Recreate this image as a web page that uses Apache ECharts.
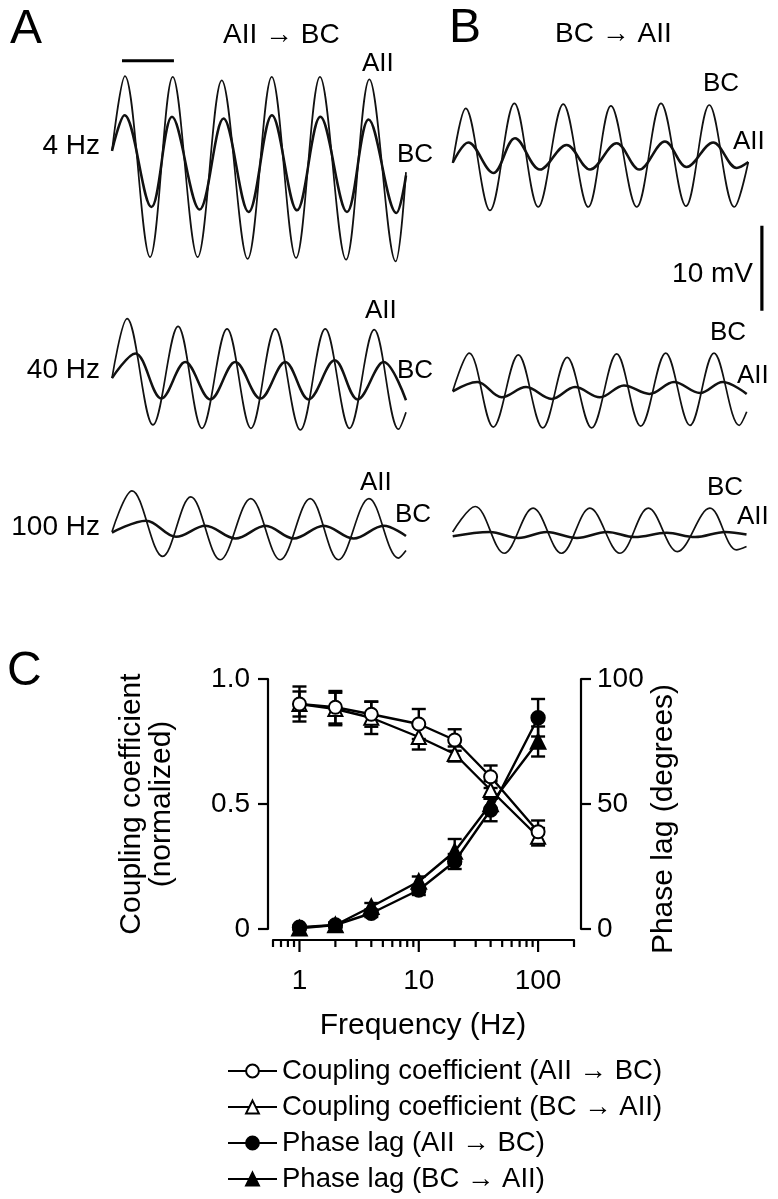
<!DOCTYPE html>
<html>
<head>
<meta charset="utf-8">
<script src="https://cdn.jsdelivr.net/npm/echarts@6/dist/echarts.min.js"></script>
<style>html,body{margin:0;padding:0;background:#fff}#c{width:778px;height:1199px}</style>
</head>
<body>
<div id="c"></div>
<script>
// ---------- Panel A/B traces: [time (ms), membrane potential (mV)] at peaks/troughs ----------
const a4_AII  = [[0,1.9],[66,10.7],[194,-10.6],[310,10.6],[437,-10.6],[560,10.2],[692,-10.8],[815,10.6],[939,-10.7],[1061,10.6],[1194,-10.9],[1313,10.3],[1447,-11.1],[1500,-0.6]];
const a4_BC   = [[0,1.9],[64,6.1],[201,-4.7],[306,5.9],[447,-5.0],[569,5.7],[697,-5.3],[816,6.1],[944,-5.1],[1063,5.9],[1199,-5.3],[1309,5.6],[1451,-5.4],[1500,-1.0]];
const a40_AII = [[0,0.1],[7.7,7.1],[20.9,-5.4],[33.7,6.2],[45.9,-5.8],[58.7,5.9],[70.9,-5.8],[83.3,5.9],[96.1,-6.0],[108.8,5.9],[121.2,-5.8],[133.8,5.8],[146.2,-5.9],[150,-3.9]];
const a40_BC  = [[0,0.1],[11.9,3.0],[25.2,-2.3],[37.4,2.0],[50.2,-2.4],[62.9,2.0],[75.7,-2.3],[88.4,2.0],[100.3,-2.4],[113.6,2.2],[125.3,-2.4],[138.6,2.0],[150,-2.5]];
const a100_AII= [[0,-0.2],[3.4,4.6],[8.6,-3.1],[13.4,3.9],[18.4,-3.5],[23.6,3.7],[28.6,-3.5],[33.7,3.7],[38.5,-3.5],[43.7,3.7],[48.7,-3.3],[50,-2.4]];
const a100_BC = [[0,-0.3],[5.8,1.1],[10.9,-0.8],[15.9,0.5],[21.0,-1.0],[26.1,0.5],[30.9,-1.0],[36.0,0.5],[41.1,-1.0],[46.2,0.5],[50,-0.7]];
const b4_BC   = [[0,-0.8],[66,5.6],[189,-6.4],[313,6.2],[434,-6.0],[561,6.1],[688,-6.0],[803,5.9],[934,-6.0],[1057,6.2],[1184,-5.9],[1302,6.0],[1429,-6.0],[1500,-0.7]];
const b4_AII  = [[0,-0.8],[79,1.6],[206,-2.0],[316,2.1],[443,-1.6],[578,1.3],[697,-1.6],[832,1.5],[947,-1.6],[1077,1.7],[1187,-1.3],[1322,1.6],[1441,-1.4],[1500,-0.7]];
const b40_BC  = [[0,-0.1],[8.4,4.4],[20.6,-4.3],[33.3,4.2],[45.7,-4.4],[58.1,3.9],[70.5,-4.4],[83.2,4.3],[95.4,-4.2],[108.1,4.4],[120.4,-4.1],[132.6,4.4],[145.4,-4.1],[149.2,-2.5]];
const b40_AII = [[0,-0.1],[12.5,1.0],[24.9,-0.8],[37.2,0.4],[50.2,-1.0],[62.1,0.4],[74.7,-0.8],[86.9,0.6],[99.8,-0.4],[112.3,1.0],[125.5,-0.3],[137,1.0],[149.2,-0.4]];
const b100_BC = [[0,0.0],[3.8,3.0],[8.7,-2.5],[13.6,2.8],[18.4,-2.5],[23.2,2.8],[28.3,-2.5],[33.1,2.8],[38.0,-2.3],[43.5,2.8],[48.0,-2.1],[49.7,-1.7]];
const b100_AII= [[0,-0.5],[6.3,0.0],[11.1,-0.7],[15.9,0.0],[21.0,-0.7],[26.1,0.0],[30.8,-0.6],[36.2,-0.1],[41.0,-0.6],[46.1,0.0],[49.7,-0.3]];
const traceXMax = [1500, 150, 50, 1600, 150, 50];   // ms range of each row's time axis
const traceYMax = [15, 15, 15, 20, 15, 15];         // +/- mV range of each row
const timeBar4Hz = [[51,12.5],[316,12.5]];          // horizontal time bar (A, 4 Hz grid)
const voltBar10mV = [[1569,-8.2],[1569,-18.2]];      // 10 mV bar (B, 4 Hz grid)

// ---------- Panel C ----------
const freqs    = [1, 2, 4, 10, 20, 40, 100];
const ccAB     = [0.90, 0.887, 0.859, 0.82, 0.756, 0.609, 0.389];
const ccAB_err = [0.05, 0.065, 0.05, 0.06, 0.043, 0.045, 0.045];
const ccBA     = [0.90, 0.88, 0.845, 0.768, 0.70, 0.556, 0.369];
const ccBA_err = [0.07, 0.065, 0.065, 0.05, 0.03, 0.035, 0.035];
const plAB     = [0.7, 1.6, 6.3, 15.6, 27, 47.6, 84.5];
const plAB_err = [0.8, 1, 1.5, 2, 3, 4.5, 7.5];
const plBA     = [0.3, 1.6, 8.9, 19, 31, 50, 75];
const plBA_err = [0.8, 1, 1.5, 2, 5, 3, 6];
const xMajorTicks = [1, 10, 100];
const xTickLabels = ['1', '10', '100'];
const xMinorTicks = [0.6,0.7,0.8,0.9,2,3,4,5,6,7,8,9,20,30,40,50,60,70,80,90,200];
const leftTicks = [0, 0.5, 1.0], leftTickLabels = ['0', '0.5', '1.0'];
const rightTickLabels = ['0', '50', '100'];
const legendNames = ['Coupling coefficient (AII \u2192 BC)','Coupling coefficient (BC \u2192 AII)','Phase lag (AII \u2192 BC)','Phase lag (BC \u2192 AII)'];

const F = 'Liberation Sans, Arial, Helvetica, sans-serif';
const K = '#000';

// trace grids (px per mV is the same in every row: 8.5)
const tg = [
  {left:112, width:294, mid:167},
  {left:112, width:294, mid:379},
  {left:112, width:294, mid:530},
  {left:452.7, width:315.3, mid:156},
  {left:452.7, width:295.6, mid:390.5},
  {left:452.7, width:295.6, mid:532}
];
const grids = tg.map((g,i) => ({left:g.left, width:g.width, top:g.mid - traceYMax[i]*8.5, height:traceYMax[i]*17, outerBoundsMode:'none', containLabel:false}));
grids.push({left:273, width:301, top:679, height:250, outerBoundsMode:'none', containLabel:false});

const xAxes = traceXMax.map((d,i)=>({type:'value', gridIndex:i, min:0, max:d, show:false}));
const yAxes = traceYMax.map((d,i)=>({type:'value', gridIndex:i, min:-d, max:d, show:false}));
xAxes.push({
  type:'log', logBase:10, gridIndex:6, min:0.6, max:200,
  axisLine:{show:true, onZero:false, lineStyle:{color:K, width:2.2}},
  axisTick:{show:false}, splitLine:{show:false}, minorTick:{show:false},
  offset:11,
  axisLabel:{margin:27, fontSize:28, color:K, fontFamily:F, showMinLabel:false, showMaxLabel:false,
    formatter:v=>{const i=xMajorTicks.findIndex(m=>Math.abs(m-v)<1e-6*m); return i>=0?xTickLabels[i]:'';}}
});
yAxes.push({
  type:'value', gridIndex:6, position:'left', min:0, max:1, interval:0.5, offset:5,
  axisLine:{show:true, onZero:false, lineStyle:{color:K, width:2.2}},
  axisTick:{show:true, length:10, lineStyle:{color:K, width:2.2}},
  splitLine:{show:false},
  axisLabel:{margin:18, fontSize:28, color:K, fontFamily:F,
    formatter:v=>{const i=leftTicks.findIndex(t=>Math.abs(t-v)<1e-9); return i>=0?leftTickLabels[i]:'';}}
});
yAxes.push({
  type:'value', gridIndex:6, position:'right', min:0, max:100, interval:50, offset:7,
  axisLine:{show:true, onZero:false, lineStyle:{color:K, width:2.2}},
  axisTick:{show:true, length:10, lineStyle:{color:K, width:2.2}},
  splitLine:{show:false},
  axisLabel:{margin:16, fontSize:28, color:K, fontFamily:F,
    formatter:v=>rightTickLabels[Math.round(v/50)]}
});

const series = [];
function trace(data, idx, w){
  series.push({type:'line', xAxisIndex:idx, yAxisIndex:idx, data, smooth:0.36, showSymbol:false, symbol:'none',
    lineStyle:{color:'#111', width:w}, clip:false, silent:true, animation:false});
}
trace(a4_AII,0,1.7); trace(a4_BC,0,2.5);
trace(a40_AII,1,1.7); trace(a40_BC,1,2.5);
trace(a100_AII,2,1.7); trace(a100_BC,2,2.5);
trace(b4_BC,3,1.7); trace(b4_AII,3,2.5);
trace(b40_BC,4,1.7); trace(b40_AII,4,2.5);
trace(b100_BC,5,1.7); trace(b100_AII,5,2.5);
// scale bars
series.push({type:'line', xAxisIndex:0, yAxisIndex:0, data:timeBar4Hz, symbol:'none', showSymbol:false, lineStyle:{color:K,width:3.2}, clip:false, animation:false});
series.push({type:'line', xAxisIndex:3, yAxisIndex:3, data:voltBar10mV, symbol:'none', showSymbol:false, lineStyle:{color:K,width:3.2}, clip:false, animation:false});

// panel C: error bars
function errRender(params, api){
  const x=api.value(0), y=api.value(1), e=api.value(2);
  const t=api.coord([x,y+e]), b=api.coord([x,y-e]); const w=7;
  const st={stroke:K, lineWidth:2.4};
  return {type:'group', children:[
    {type:'line', shape:{x1:t[0],y1:t[1],x2:b[0],y2:b[1]}, style:st},
    {type:'line', shape:{x1:t[0]-w,y1:t[1],x2:t[0]+w,y2:t[1]}, style:st},
    {type:'line', shape:{x1:b[0]-w,y1:b[1],x2:b[0]+w,y2:b[1]}, style:st}
  ]};
}
function errSeries(vals, errs, yIdx){
  series.push({type:'custom', xAxisIndex:6, yAxisIndex:yIdx, renderItem:errRender, z:1, clip:false, silent:true, animation:false,
    encode:{x:0,y:1}, data:freqs.map((f,i)=>[f, vals[i], errs[i]])});
}
errSeries(plAB, plAB_err, 7); errSeries(plBA, plBA_err, 7);
errSeries(ccAB, ccAB_err, 6); errSeries(ccBA, ccBA_err, 6);

function cLine(name, vals, yIdx, symbol, size, z){
  series.push({type:'line', name, xAxisIndex:6, yAxisIndex:yIdx, data:freqs.map((f,i)=>[f, vals[i]]),
    symbol, symbolSize:size, showSymbol:true, showAllSymbol:true, z,
    lineStyle:{color:K, width:2.4}, itemStyle:{color:K, borderColor:K, borderWidth:2.4}, silent:true, animation:false});
}
cLine(legendNames[2], plAB, 7, 'circle', 13, 3);
cLine(legendNames[3], plBA, 7, 'triangle', 14, 3);
cLine(legendNames[1], ccBA, 6, 'emptyTriangle', 14, 4);
cLine(legendNames[0], ccAB, 6, 'emptyCircle', 13, 5);

// x-axis ticks (log positions) drawn through the log scale
function tickRender(params, api){
  const p=api.coord([api.value(0),0]); const y0=p[1]+11; const len=api.value(1);
  return {type:'line', shape:{x1:p[0],y1:y0,x2:p[0],y2:y0+len}, style:{stroke:K, lineWidth:2.2}};
}
series.push({type:'custom', xAxisIndex:6, yAxisIndex:6, renderItem:tickRender, clip:false, silent:true, animation:false,
  encode:{x:0}, data:xMajorTicks.map(v=>[v,12]).concat(xMinorTicks.map(v=>[v,7]))});

// legends, one per row
const legendRowsY = [1073, 1109, 1145, 1181];
const legends = legendNames.map((n,i)=>({
  left:227, top:legendRowsY[i]-16, orient:'vertical', itemWidth:49, itemHeight:16, itemGap:0,
  selectedMode:false, data:[n], padding:0,
  textStyle:{fontSize:27.5, color:K, fontFamily:F}
}));

function txt(text, x, y, size, align, rot, lh){
  const o={type:'text', x, y, silent:true, style:{text, fontSize:size, fontFamily:F, fill:K, align:align||'left', verticalAlign:'middle', lineHeight:lh||size}};
  if(rot) o.rotation=rot;
  return o;
}
const R = Math.PI/2;
const graphic = [
  txt('A',10,30,48), txt('B',449,29,48), txt('C',7,672,48),
  txt('AII \u2192 BC',223,35,28), txt('BC \u2192 AII',555,34,28),
  txt('AII',362,64,26), txt('BC',397,155,26), txt('4 Hz',100,146,28,'right'),
  txt('AII',365,311,26), txt('BC',397,371,26), txt('40 Hz',100,370,28,'right'),
  txt('AII',360,483,26), txt('BC',395,515,26), txt('100 Hz',100,527,28,'right'),
  txt('BC',703,84,26), txt('AII',733,142,26),
  txt('BC',710,333,26), txt('AII',737,376,26),
  txt('BC',707,488,26), txt('AII',737,517,26),
  txt('10 mV',753,274,28,'right'),
  txt('Frequency (Hz)',423,1026,30,'center'),
  txt('Coupling coefficient\n(normalized)',147,804,30,'center',R,30),
  txt('Phase lag (degrees)',664,819,30,'center',R)
];

const chart = echarts.init(document.getElementById('c'), null, {renderer:'canvas'});
chart.setOption({
  animation:false, backgroundColor:'#fff',
  textStyle:{fontFamily:F},
  grid:grids, xAxis:xAxes, yAxis:yAxes, series, legend:legends, graphic
});
</script>
</body>
</html>
